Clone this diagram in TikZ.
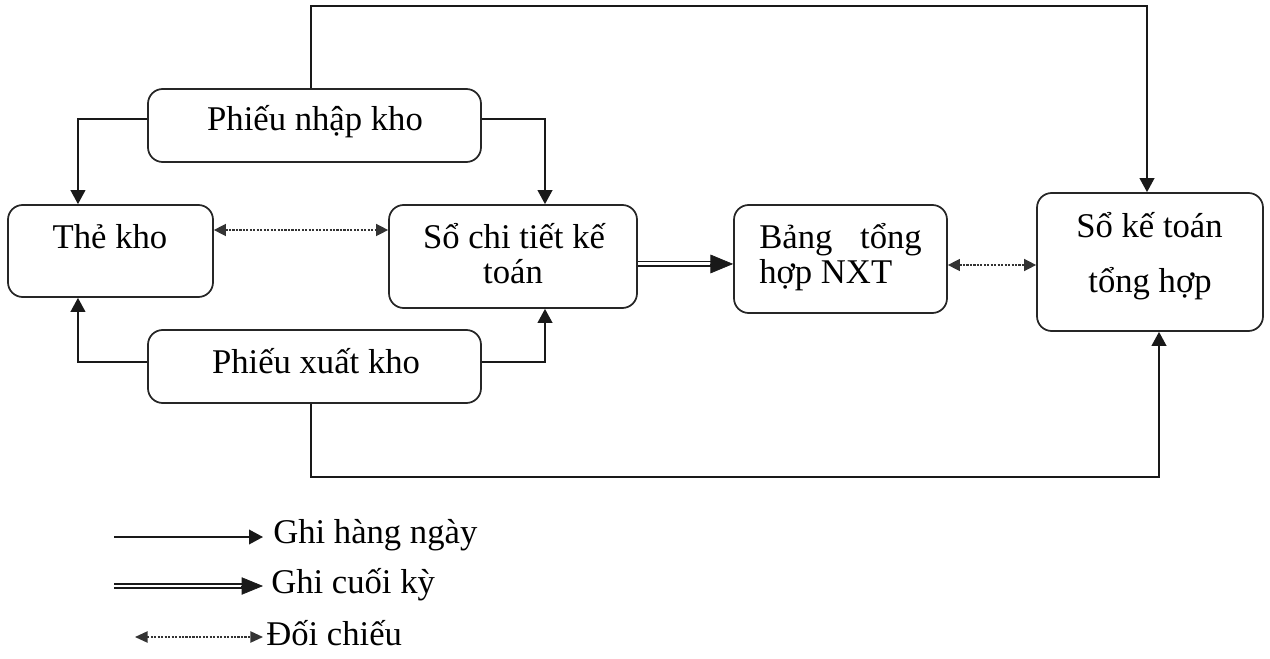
\documentclass[tikz,border=0pt]{standalone}
\usepackage{fontspec}
\setmainfont{Liberation Serif}
\usetikzlibrary{arrows.meta}
\begin{document}
\begin{tikzpicture}[x=0.75pt,y=-0.75pt,
  box/.style={draw=black!85, line width=1.3pt, rounded corners=11pt, inner sep=0pt},
  txt/.style={font=\fontsize{26}{31}\selectfont, inner sep=0pt, anchor=base},
  conn/.style={draw=black!90, line width=1.4pt, -{Triangle[length=10.5pt,width=11pt]}},
  check/.style={draw=black!80, line width=1.1pt, dash pattern=on 1.6pt off 1pt,
    {Triangle[length=9pt,width=9pt]}-{Triangle[length=9pt,width=9pt]}},
  dbl/.style={draw=black!90, line width=1.1pt, double, double distance=2.2pt},
  dbltip/.style={draw=black!90, line width=0.5pt, -{Triangle[length=17pt,width=14pt]}},
]
\useasboundingbox (0,0) rectangle (1270,659);

% boxes
\node[box, minimum width=249.75pt, minimum height=54.75pt] (pn)  at (314.5,125.5) {};
\node[box, minimum width=249.75pt, minimum height=54.75pt] (px)  at (314.5,366.5) {};
\node[box, minimum width=153.75pt, minimum height=69pt]    (tk)  at (110.5,251)   {};
\node[box, minimum width=186pt,    minimum height=77.25pt] (sct) at (513,256.5)   {};
\node[box, minimum width=159.75pt, minimum height=81pt]    (bth) at (840.5,259)   {};
\node[box, minimum width=169.5pt,  minimum height=103.5pt] (skt) at (1150,262)    {};

% box texts
\node[txt] (pnT)  at (315,131) {Phiếu nhập kho};
\node[txt] (pxT)  at (316,373) {Phiếu xuất kho};
\node[txt] (tkT)  at (110,248) {Thẻ kho};
\node[txt] (sctA) at (514,248) {Sổ chi tiết kế};
\node[txt] (sctB) at (513,283) {toán};
\node[txt, anchor=base west] (bthA) at (759,248) {Bảng};
\node[txt, anchor=base east] (bthB) at (922,248) {tổng};
\node[txt, anchor=base west] (bthC) at (759,283) {hợp NXT};
\node[txt] (sktA) at (1149.5,238) {Sổ kế toán};
\node[txt] (sktB) at (1150,292) {tổng hợp};

% daily postings
\draw[conn] ([yshift=4.9pt]pn.west) -| ([xshift=-24.4pt]tk.north);
\draw[conn] ([yshift=4.9pt]pn.east) -| ([xshift=24pt]sct.north);
\draw[conn] ([xshift=-2.6pt]pn.north) -- ++(0,-82) -| ([xshift=-2.25pt]skt.north);
\draw[conn] ([yshift=3.4pt]px.west) -| ([xshift=-24.4pt]tk.south);
\draw[conn] ([yshift=3.4pt]px.east) -| ([xshift=24pt]sct.south);
\draw[conn] ([xshift=-2.6pt]px.south) -- ++(0,73) -| ([xshift=6.75pt]skt.south);

% cross checks
\coordinate (c1) at ([yshift=15.75pt]tk.east);
\draw[check] (c1) -- (c1 -| sct.west);
\coordinate (c2) at ([yshift=-4.5pt]bth.east);
\draw[check] (c2) -- (c2 -| skt.west);

% end-of-period posting
\coordinate (e1) at ([yshift=-5.6pt]sct.east);
\coordinate (e2) at (e1 -| bth.west);
\draw[dbl] (e1) -- ([xshift=-15pt]e2);
\draw[dbltip] ([xshift=-17.5pt]e2) -- (e2);

% legend
\node[txt, anchor=base west] (lg1) at (273,543) {Ghi hàng ngày};
\node[txt, anchor=base west] (lg2) at (271,593) {Ghi cuối kỳ};
\node[txt, anchor=base west] (lg3) at (266,645) {Đối chiếu};
\coordinate (l1s) at (114,537);
\coordinate (l1e) at (263,537);
\draw[conn, line width=1.2pt] (l1s) -- (l1e);
\coordinate (l2s) at (114,586);
\coordinate (l2e) at (263,586);
\draw[dbl] (l2s) -- ([xshift=-14pt]l2e);
\draw[dbltip, -{Triangle[length=16pt,width=13pt]}] ([xshift=-16.5pt]l2e) -- (l2e);
\coordinate (l3s) at (135,637);
\coordinate (l3e) at (263,637);
\draw[check, {Triangle[length=9.5pt,width=8.5pt]}-{Triangle[length=9.5pt,width=8.5pt]}] (l3s) -- (l3e);
\end{tikzpicture}
\end{document}
